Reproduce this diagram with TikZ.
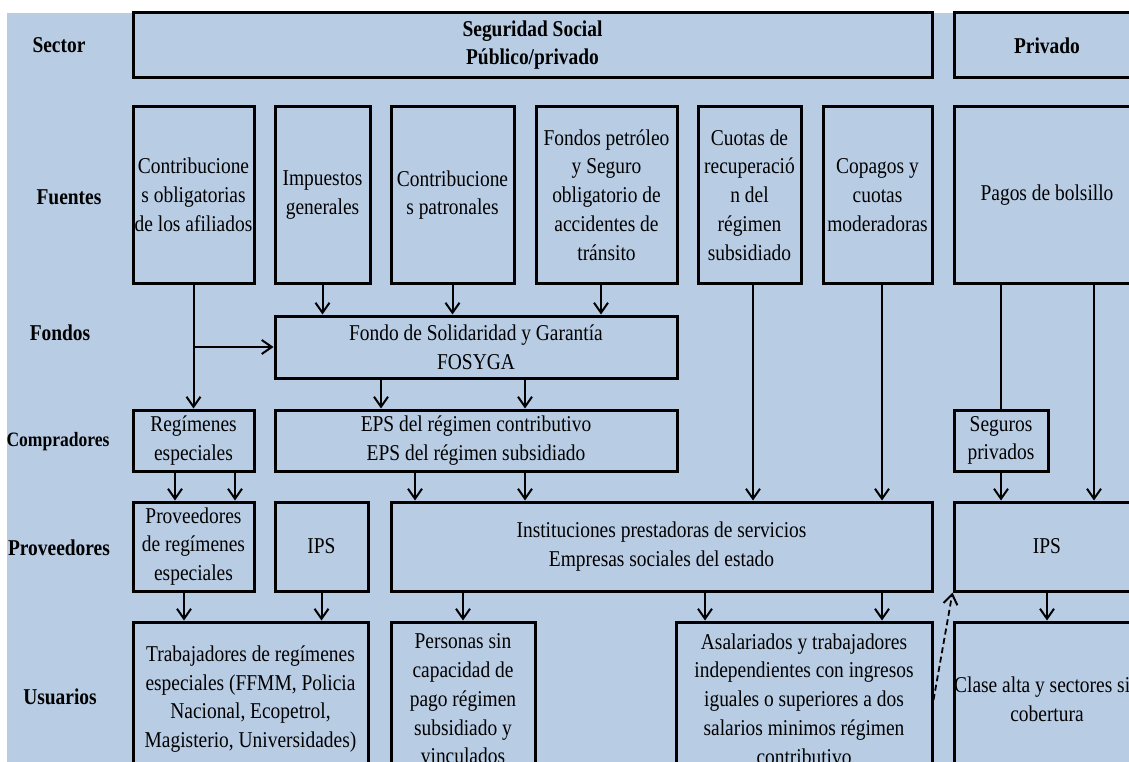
\documentclass[tikz,border=0pt]{standalone}
\usepackage{fontspec}
\setmainfont{Liberation Serif}[FakeStretch=0.86]
\usetikzlibrary{arrows.meta}

\definecolor{panel}{HTML}{B8CCE4}

% text sizes for box contents and row labels
\newcommand\txtsize{\fontsize{22.6}{28.8}\selectfont}
\newcommand\lblsize{\bfseries\fontsize{22.6}{28}\selectfont}

\tikzset{
  box/.style={draw=black, line width=3pt, inner sep=0pt, align=center, font=\txtsize},
  headbox/.style={box, font=\lblsize},
  rowlabel/.style={inner sep=0pt, font=\lblsize},
  arr/.style={line width=2pt, -{Straight Barb[length=10pt,width=14pt,line width=2pt]}},
  longarr/.style={arr, line width=1.6pt},
  feed/.style={line width=1.6pt},
  dasharr/.style={arr, line width=1.8pt, dash pattern=on 6pt off 3.5pt},
}

% box given by its corners: name, x1, y1, x2, y2, style, text
\newcommand\boxat[7]{%
  \node[#6, minimum width={#4-#2}, minimum height={#5-#3}]
    (#1) at ({(#2+#4)/2},{(#3+#5)/2}) {#7};}

\begin{document}
\begin{tikzpicture}[x=1pt, y=-1pt]
\useasboundingbox (0,0) rectangle (1129,762);
\clip (0,0) rectangle (1129,762);
\fill[white] (0,0) rectangle (1129,762);
\fill[panel] (7,13) rectangle (1129,762);

% row labels
\node[rowlabel] (lsector) at (59,45) {Sector};
\node[rowlabel] (lfuentes) at (69,197) {Fuentes};
\node[rowlabel] (lfondos) at (60,333) {Fondos};
\node[rowlabel, font=\bfseries\fontsize{20.4}{24}\selectfont] (lcompr) at (58,442) {Compradores};
\node[rowlabel] (lprov) at (59,548) {Proveedores};
\node[rowlabel] (lusu) at (60,697) {Usuarios};

% sector
\boxat{ss}{133}{13}{932}{78}{headbox}{Seguridad Social\\Público/privado}
\boxat{priv}{954}{13}{1140}{78}{headbox}{Privado}

% sources
\boxat{b1}{133}{107}{254}{283}{box}{Contribucione\\s obligatorias\\de los afiliados}
\boxat{b2}{275}{107}{370}{283}{box}{Impuestos\\generales}
\boxat{b3}{391}{107}{514}{283}{box}{Contribucione\\s patronales}
\boxat{b4}{536}{107}{677}{283}{box}{Fondos petróleo\\y Seguro\\obligatorio de\\accidentes de\\tránsito}
\boxat{b5}{698}{107}{801}{283}{box}{Cuotas de\\recuperació\\n del\\régimen\\subsidiado}
\boxat{b6}{823}{107}{932}{283}{box}{Copagos y\\cuotas\\moderadoras}
\boxat{b7}{954}{107}{1140}{283}{box}{Pagos de bolsillo}

% funds
\boxat{fondo}{275}{316}{677}{378}{box}{Fondo de Solidaridad y Garantía\\FOSYGA}

% purchasers
\boxat{reg}{133}{410}{254}{471}{box}{Regímenes\\especiales}
\boxat{eps}{275}{410}{677}{471}{box}{EPS del régimen contributivo\\EPS del régimen subsidiado}
\boxat{seg}{954}{410}{1048}{471}{box}{Seguros\\privados}

% providers
\boxat{preg}{133}{502}{254}{591}{box}{Proveedores\\de regímenes\\especiales}
\boxat{ips}{275}{502}{368}{591}{box}{IPS}
\boxat{inst}{391}{502}{932}{591}{box}{Instituciones prestadoras de servicios\\Empresas sociales del estado}
\boxat{ipsr}{954}{502}{1140}{591}{box}{IPS}

% users
\boxat{trab}{133}{622}{368}{776}{box}{Trabajadores de regímenes\\especiales (FFMM, Policia\\Nacional, Ecopetrol,\\Magisterio, Universidades)}
\boxat{pers}{391}{622}{535}{776}{box}{Personas sin\\capacidad de\\pago régimen\\subsidiado y\\vinculados}
\boxat{asal}{676}{622}{932}{776}{box}{Asalariados y trabajadores\\independientes con ingresos\\iguales o superiores a dos\\salarios minimos régimen\\contributivo}
\boxat{clase}{954}{622}{1140}{776}{box}{Clase alta y sectores sin\\cobertura}

% sources to funds and purchasers
\draw[arr] (b1.south) -- (reg.north);
\coordinate (split) at (b1.south |- fondo.west);
\draw[arr] (split) -- (fondo.west);
\draw[arr] (b2.south) -- (fondo.north -| b2.south);
\draw[arr] (b3.south) -- (fondo.north -| b3.south);
\draw[arr] (b4.south -| 601,0) -- (fondo.north -| 601,0);

% funds to purchasers
\draw[arr] (fondo.south -| 381,0) -- (eps.north -| 381,0);
\draw[arr] (fondo.south -| 525,0) -- (eps.north -| 525,0);

% purchasers to providers
\draw[arr] (reg.south -| 175,0) -- (preg.north -| 175,0);
\draw[arr] (reg.south -| 235,0) -- (preg.north -| 235,0);
\draw[arr] (eps.south -| 415,0) -- (inst.north -| 415,0);
\draw[arr] (eps.south -| 525,0) -- (inst.north -| 525,0);
\draw[longarr] (b5.south -| 753,0) -- (inst.north -| 753,0);
\draw[longarr] (b6.south -| 882,0) -- (inst.north -| 882,0);
\draw[feed] (b7.south -| seg.north) -- (seg.north);
\draw[arr] (seg.south) -- (ipsr.north -| seg.south);
\draw[longarr] (b7.south -| 1094,0) -- (ipsr.north -| 1094,0);

% providers to users
\draw[arr] (preg.south -| 184,0) -- (trab.north -| 184,0);
\draw[arr] (ips.south) -- (trab.north -| ips.south);
\draw[arr] (inst.south -| pers.north) -- (pers.north);
\draw[arr] (inst.south -| 705,0) -- (asal.north -| 705,0);
\draw[arr] (inst.south -| 882,0) -- (asal.north -| 882,0);
\draw[arr] (ipsr.south) -- (clase.north);

% users who also pay private providers
\coordinate (asalout) at (asal.east |- 0,700);
\draw[dasharr] (asalout) -- (ipsr.south west);
\end{tikzpicture}
\end{document}
